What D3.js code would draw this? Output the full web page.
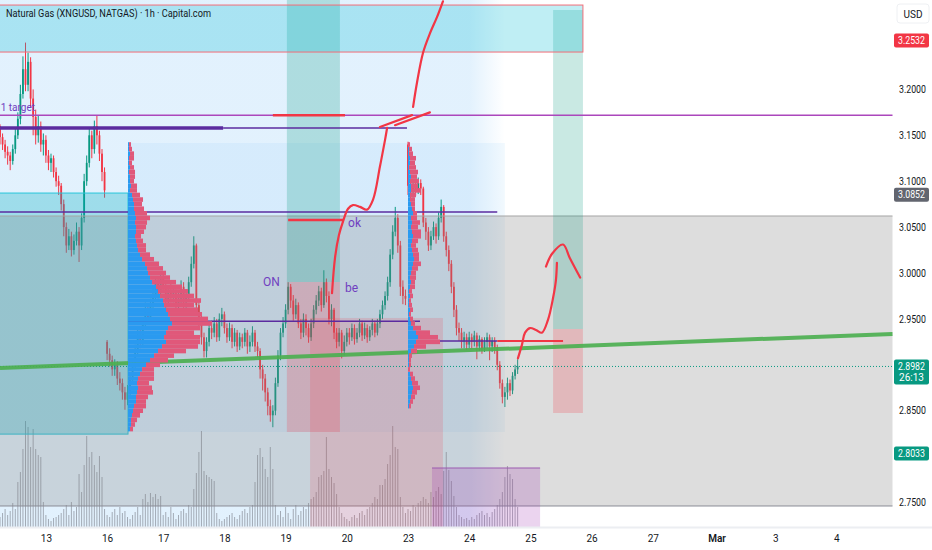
<!DOCTYPE html>
<html>
<head>
<meta charset="utf-8">
<script src="https://cdn.jsdelivr.net/npm/d3@7"></script>
<style>
body { margin: 0; background: #fff; }
svg text { font-family: Roboto, "Noto Sans", sans-serif; }
</style>
</head>
<body>
<svg id="chart"></svg>
<script>
// hourly bars, Feb 13 -> Feb 24
var closes = [
  3.148,3.140,3.132,3.128,3.122,3.135,3.150,3.168,3.195,3.222,
  3.205,3.230,3.190,3.170,3.150,3.160,3.140,3.145,3.128,3.120,
  3.125,3.110,3.100,3.095,3.075,3.050,3.030,3.040,3.025,3.035,
  3.045,3.030,3.060,3.100,3.120,3.150,3.135,3.160,3.150,3.130,
  3.110,3.090,2.912,2.905,2.895,2.900,2.885,2.880,2.870,2.862,
  2.870,2.885,2.900,2.915,2.930,2.925,2.945,2.960,2.950,2.965,
  2.975,2.990,2.980,2.995,2.985,2.970,2.980,2.975,2.978,2.965,
  2.972,2.985,2.968,2.975,2.990,3.010,3.030,2.965,2.950,2.930,
  2.915,2.925,2.940,2.935,2.945,2.930,2.950,2.955,2.940,2.930,
  2.940,2.925,2.935,2.920,2.930,2.925,2.935,2.920,2.925,2.935,
  2.920,2.915,2.895,2.885,2.870,2.855,2.845,2.850,2.880,2.910,
  2.935,2.945,2.960,2.985,2.970,2.955,2.965,2.945,2.935,2.950,
  2.940,2.930,2.945,2.960,2.970,2.980,2.965,2.990,2.975,2.950,
  2.960,2.935,2.925,2.935,2.915,2.925,2.935,2.930,2.940,2.928,
  2.935,2.945,2.932,2.940,2.930,2.938,2.945,2.935,2.945,2.955,
  2.965,2.975,2.990,3.020,3.045,3.060,3.030,2.985,2.975,2.972,
  3.095,3.088,3.095,3.090,3.098,3.092,3.055,3.045,3.030,3.040,
  3.050,3.040,3.060,3.072,3.040,3.025,3.010,2.985,2.960,2.940,
  2.935,2.925,2.930,2.922,2.930,2.925,2.932,2.920,2.928,2.918,
  2.925,2.930,2.920,2.926,2.918,2.900,2.880,2.865,2.870,2.880,
  2.872,2.888,2.895,2.8982
];
var highs = [
  3.162,3.152,3.145,3.138,3.132,3.140,3.158,3.175,3.205,3.236,
  3.251,3.240,3.235,3.200,3.178,3.172,3.165,3.152,3.150,3.134,
  3.130,3.128,3.115,3.106,3.098,3.080,3.055,3.048,3.045,3.042,
  3.055,3.050,3.065,3.108,3.128,3.158,3.155,3.166,3.172,3.155,
  3.135,3.115,2.927,2.918,2.910,2.906,2.904,2.892,2.885,2.876,
  2.878,2.890,2.905,2.922,2.938,2.940,2.952,2.968,2.965,2.972,
  2.984,2.996,2.995,3.002,3.000,2.990,2.986,2.988,2.986,2.982,
  2.980,2.992,2.990,2.982,2.996,3.018,3.040,3.032,2.970,2.955,
  2.935,2.930,2.946,2.948,2.952,2.950,2.956,2.962,2.958,2.945,
  2.946,2.944,2.940,2.938,2.935,2.934,2.940,2.938,2.932,2.942,
  2.938,2.925,2.918,2.900,2.890,2.875,2.862,2.856,2.886,2.916,
  2.940,2.952,2.966,2.990,2.988,2.976,2.972,2.968,2.950,2.956,
  2.955,2.945,2.950,2.965,2.976,2.986,2.984,3.003,2.994,2.980,
  2.966,2.962,2.940,2.940,2.938,2.932,2.940,2.940,2.945,2.944,
  2.940,2.950,2.948,2.946,2.944,2.942,2.950,2.948,2.950,2.960,
  2.970,2.980,2.996,3.026,3.052,3.072,3.064,3.035,2.992,2.982,
  3.143,3.100,3.102,3.100,3.104,3.102,3.094,3.060,3.050,3.046,
  3.056,3.054,3.066,3.080,3.074,3.045,3.030,3.014,2.990,2.965,
  2.946,2.940,2.936,2.934,2.936,2.934,2.937,2.935,2.932,2.930,
  2.930,2.935,2.933,2.930,2.930,2.922,2.904,2.884,2.876,2.886,
  2.884,2.892,2.900,2.906
];
var lows = [
  3.140,3.134,3.125,3.118,3.112,3.118,3.130,3.146,3.162,3.190,
  3.198,3.198,3.180,3.150,3.140,3.142,3.132,3.128,3.120,3.112,
  3.110,3.104,3.094,3.085,3.068,3.040,3.022,3.025,3.018,3.020,
  3.030,3.012,3.025,3.055,3.095,3.115,3.125,3.130,3.140,3.122,
  3.100,3.082,2.905,2.898,2.888,2.888,2.878,2.872,2.862,2.851,
  2.856,2.865,2.880,2.895,2.910,2.918,2.920,2.940,2.944,2.946,
  2.960,2.970,2.972,2.976,2.978,2.962,2.964,2.968,2.968,2.958,
  2.960,2.966,2.962,2.962,2.970,2.985,3.005,2.958,2.942,2.922,
  2.908,2.908,2.920,2.928,2.930,2.925,2.926,2.942,2.934,2.924,
  2.926,2.918,2.920,2.914,2.916,2.918,2.920,2.912,2.914,2.920,
  2.914,2.908,2.885,2.872,2.860,2.845,2.838,2.832,2.845,2.876,
  2.905,2.930,2.940,2.955,2.962,2.948,2.950,2.940,2.928,2.930,
  2.932,2.924,2.926,2.940,2.955,2.964,2.958,2.962,2.968,2.944,
  2.942,2.928,2.918,2.920,2.907,2.910,2.920,2.922,2.926,2.922,
  2.924,2.930,2.926,2.928,2.924,2.926,2.932,2.930,2.932,2.940,
  2.950,2.960,2.970,2.985,3.015,3.040,3.022,2.975,2.966,2.965,
  3.085,3.080,3.082,3.084,3.086,3.085,3.050,3.036,3.024,3.025,
  3.036,3.032,3.036,3.055,3.034,3.018,3.002,2.978,2.952,2.932,
  2.926,2.918,2.918,2.916,2.918,2.918,2.920,2.906,2.915,2.912,
  2.914,2.918,2.905,2.914,2.912,2.894,2.874,2.858,2.854,2.862,
  2.866,2.868,2.884,2.890
];
// session opens after the weekend gaps, other bars open at the previous close
var gapOpens = { 0: 3.160, 42: 2.925, 160: 3.140 };
var volumes = [
  10,14,18,12,16,24,18,45,55,78,
  106,100,80,98,78,72,70,25,12,8,
  6,9,10,12,14,18,22,12,25,16,
  20,53,35,62,91,70,75,62,55,71,
  50,18,12,10,15,18,12,20,14,16,
  10,8,12,15,20,12,28,33,25,34,
  30,33,28,31,12,15,10,20,14,8,
  12,16,18,14,22,20,38,54,75,96,
  56,52,50,48,46,14,8,6,8,10,
  12,14,10,8,12,16,18,14,20,22,
  45,72,79,70,58,50,80,58,22,12,
  16,10,20,14,8,18,22,12,16,20,
  18,24,28,30,35,50,52,56,90,58,
  50,44,33,20,14,10,8,6,10,12,
  9,14,16,12,18,20,24,30,28,42,
  42,48,63,72,101,80,78,30,20,14,
  18,16,22,20,24,26,30,28,24,35,
  30,36,40,33,56,75,57,46,31,20,
  12,10,8,9,7,10,8,12,14,16,
  12,14,10,15,18,22,28,35,50,61,
  53,48,28,20
];

// time axis (bar index of each day label)
var dayTicks = [18, 42, 64, 88, 112, 136, 160, 184, 208, 232, 256, 281, 304, 328];
var dayLabels = ["13", "16", "17", "18", "19", "20", "23", "24", "25", "26", "27", "Mar", "3", "4"];
var priceTicks = [3.2, 3.15, 3.1, 3.05, 3.0, 2.95, 2.85, 2.75];

// fixed range volume profiles, rows every 0.005 from the top price down
var p1Top = 3.140, p1Up = [
  1,1,2,1,1,2,1,2,2,3, 2,4,5,6,6,7,8,7,8,8, 7,8,9,10,12,14,17,19,20,22,
  24,28,30,32,35,36,38,40,42,44, 40,38,36,38,34,30,26,22,18,14,
  12,10,9,10,9,8,8,6,5,4, 3,3,2];
var p1Down = [
  2,3,4,5,3,4,6,5,4,6, 7,8,10,8,10,12,14,12,10,8, 6,7,9,8,10,12,14,16,18,20,
  24,26,30,34,38,30,32,34,38,40, 32,28,36,34,36,28,20,18,14,12,
  14,16,12,14,16,12,10,12,10,8, 6,4,3];
var p2Top = 3.140, p2Up = [
  0,1,1,2,2,1,2,3,2,3, 3,2,2,3,4,5,3,4,3,4, 5,4,3,4,5,6,5,4,3,2,
  3,2,1,2,1,1,2,1,2,3, 5,8,10,8,6,3,1,1,1,0, 2,3,4,5,4,3,2,1];
var p2Down = [
  2,3,4,6,5,7,8,6,9,7, 10,6,5,4,3,4,6,8,7,9, 8,6,5,6,6,5,8,6,5,6,
  4,5,3,3,2,3,3,2,3,4, 8,14,20,24,12,6,3,2,2,2, 3,4,6,7,5,4,3,2];

// hand drawn brush strokes, [bar index, price]
var brushUp = [[130.2,2.978],[131.4,3.017],[132.9,3.041],[134.5,3.056],[136.5,3.070],[138.4,3.074],
  [141.2,3.072],[143.9,3.069],[146.3,3.080],[149.0,3.116],[151.0,3.145],[151.8,3.158]];
var brushArrowA = [[149.0,3.159],[161.6,3.172]];
var brushArrowB = [[154.9,3.161],[168.6,3.175]];
var brushTop = [[162.0,3.181],[163.5,3.207],[165.9,3.240],[168.6,3.261],[171.4,3.279],[173.7,3.296]];
var brushRight = [[203.1,2.907],[204.7,2.922],[205.9,2.935],[207.8,2.940],[210.2,2.938],[212.5,2.935],
  [214.9,2.949],[216.9,2.973],[218.0,2.992],[218.4,3.011]];
var brushCaret = [[214.1,3.007],[216.5,3.021],[220.8,3.031],[223.5,3.016],[227.5,2.995]];

var W = 932, H = 550, plotR = 893, plotB = 527;

var x = d3.scaleLinear().domain([0, 350]).range([0, 892.5]);
var y = d3.scaleLinear().domain([2.75, 3.2]).range([502.5, 89.4]);
var vy = d3.scaleLinear().domain([0, 110]).range([plotB, plotB - 110]);
var rowH = y(2.75) - y(2.755);

var svg = d3.select("#chart").attr("width", W).attr("height", H);
svg.append("rect").attr("width", W).attr("height", H).attr("fill", "#fff");

var defs = svg.append("defs");
defs.append("clipPath").attr("id", "plot").append("rect").attr("width", plotR).attr("height", plotB);
var fade = defs.append("linearGradient").attr("id", "fade").attr("gradientUnits", "userSpaceOnUse")
    .attr("x1", x(0)).attr("x2", x(198)).attr("y1", 0).attr("y2", 0);
fade.append("stop").attr("offset", 0.93).attr("stop-color", "#2196f3").attr("stop-opacity", 0.13);
fade.append("stop").attr("offset", 1).attr("stop-color", "#2196f3").attr("stop-opacity", 0);

var g = svg.append("g").attr("clip-path", "url(#plot)");

function zone(i0, i1, p0, p1, fill, stroke) {
    g.append("rect")
        .attr("x", x(i0)).attr("width", x(i1) - x(i0))
        .attr("y", y(p0)).attr("height", y(p1) - y(p0))
        .attr("fill", fill)
        .attr("stroke", stroke || "none");
}
function hline(i0, i1, p, color, w) {
    g.append("line")
        .attr("x1", x(i0)).attr("x2", x(i1))
        .attr("y1", y(p)).attr("y2", y(p))
        .attr("stroke", color).attr("stroke-width", w);
}

// background of the range boxes
zone(-1, 198, 3.31, 2.70, "url(#fade)");
zone(50.2, 198, 3.1416, 2.8268, "rgba(33,150,243,0.06)");

// volume
var bars = closes.map(function (c, i) {
    var o = gapOpens[i] !== undefined ? gapOpens[i] : closes[i - 1];
    return {i: i, o: o, h: highs[i], l: lows[i], c: c, v: volumes[i]};
});
g.selectAll(".vol").data(bars).enter().append("line")
    .attr("class", "vol")
    .attr("x1", function (d) { return x(d.i); })
    .attr("x2", function (d) { return x(d.i); })
    .attr("y1", vy(0))
    .attr("y2", function (d) { return vy(d.v); })
    .attr("stroke", "rgba(120,123,134,0.6)").attr("stroke-width", 1);

// candles
var up = "#089981", down = "#f23645";
var cg = g.selectAll(".candle").data(bars).enter().append("g").attr("class", "candle");
cg.append("line")
    .attr("x1", function (d) { return x(d.i); })
    .attr("x2", function (d) { return x(d.i); })
    .attr("y1", function (d) { return y(d.h); })
    .attr("y2", function (d) { return y(d.l); })
    .attr("stroke", function (d) { return d.c >= d.o ? up : down; })
    .attr("stroke-width", 1);
cg.append("rect")
    .attr("x", function (d) { return x(d.i) - 0.9; })
    .attr("width", 1.8)
    .attr("y", function (d) { return y(Math.max(d.o, d.c)); })
    .attr("height", function (d) { return Math.max(0.8, Math.abs(y(d.o) - y(d.c))); })
    .attr("fill", function (d) { return d.c >= d.o ? up : down; });

// drawings
zone(-1, 50.2, 3.0871, 2.8245, "rgba(0,172,193,0.3)", "#26c6da");
zone(-1, 350, 3.0621, 2.7462, "rgba(128,128,128,0.27)");
hline(-1, 350, 3.0621, "#a5a5a5", 1);
hline(-1, 350, 2.7462, "#8a8d96", 1);
zone(112.5, 133.3, 3.31, 2.9902, "rgba(8,153,129,0.24)");
zone(112.5, 133.3, 2.9902, 2.8268, "rgba(242,54,69,0.22)");
zone(121.6, 173.7, 2.951, 2.70, "rgba(242,54,69,0.17)");
zone(216.9, 228.6, 3.2865, 2.939, "rgba(8,153,129,0.22)");
zone(216.9, 228.6, 2.939, 2.8475, "rgba(242,54,69,0.22)");
zone(169.4, 211.8, 2.7876, 2.70, "rgba(156,39,176,0.2)");
hline(169.4, 211.8, 2.7876, "#9c5bb0", 1.2);
zone(-1, 228.6, 3.2919, 3.2407, "rgba(0,188,212,0.25)", "#f26d78");

// levels
var deep = "#5b2b9f";
hline(-1, 350, 3.1718, "#ab47bc", 1.6);
hline(-1, 87.5, 3.158, deep, 3.5);
hline(87.5, 159.6, 3.158, deep, 1.5);
hline(-1, 195, 3.0664, deep, 1.5);
hline(50.2, 164.7, 2.9475, deep, 1.5);
hline(160, 195, 2.926, deep, 1.5);
hline(195, 220.8, 2.926, "#f23645", 2);
hline(113, 134.5, 3.0577, "#f23645", 2.5);
hline(107, 135.3, 3.1718, "#f23645", 2.5);

// last price line
g.append("line")
    .attr("x1", 0).attr("x2", plotR)
    .attr("y1", y(2.8982)).attr("y2", y(2.8982))
    .attr("stroke", "#089981").attr("stroke-width", 1)
    .attr("stroke-dasharray", "1,2");

// trend line
g.append("line")
    .attr("x1", x(0)).attr("y1", y(2.8965))
    .attr("x2", x(350)).attr("y2", y(2.9336))
    .attr("stroke", "#4caf50").attr("stroke-width", 4).attr("stroke-opacity", 0.92);

// volume profiles
function profile(i0, top, ups, downs) {
    var rows = ups.map(function (u, k) { return {p: top - k * 0.005, u: u, d: downs[k]}; });
    var pg = g.append("g");
    pg.selectAll(".u").data(rows).enter().append("rect")
        .attr("x", x(i0))
        .attr("y", function (d) { return y(d.p) - rowH / 2; })
        .attr("width", function (d) { return d.u; })
        .attr("height", rowH)
        .attr("fill", "#2a9af0");
    pg.selectAll(".d").data(rows).enter().append("rect")
        .attr("x", function (d) { return x(i0) + d.u; })
        .attr("y", function (d) { return y(d.p) - rowH / 2; })
        .attr("width", function (d) { return d.d; })
        .attr("height", rowH)
        .attr("fill", "#e0587a");
}
profile(50.2, p1Top, p1Up, p1Down);
profile(160, p2Top, p2Up, p2Down);

// labels on the chart
var purple = "#7040c0";
function note(i, p, s, size) {
    g.append("text").attr("x", x(i)).attr("y", y(p))
        .attr("fill", purple).attr("font-size", size).text(s);
}
note(103.1, 2.9858, "ON", 12);
note(136.5, 3.0501, "ok", 12);
note(135.3, 2.9793, "be", 12);
note(0.3, 3.1765, "1 target", 10);

// brush strokes
var brush = d3.line()
    .x(function (d) { return x(d[0]); })
    .y(function (d) { return y(d[1]); })
    .curve(d3.curveCatmullRom.alpha(0.5));
[brushUp, brushArrowA, brushArrowB, brushTop, brushRight, brushCaret].forEach(function (pts) {
    g.append("path").datum(pts)
        .attr("d", brush)
        .attr("fill", "none")
        .attr("stroke", "#f23645")
        .attr("stroke-width", 2.2)
        .attr("stroke-linecap", "round");
});

// title
svg.append("text").attr("x", 6).attr("y", 17)
    .attr("font-size", 11).attr("fill", "#131722")
    .attr("textLength", 205).attr("lengthAdjust", "spacingAndGlyphs")
    .text("Natural Gas (XNGUSD, NATGAS) \u00b7 1h \u00b7 Capital.com");

// price axis
svg.append("rect").attr("x", plotR).attr("y", 0).attr("width", W - plotR).attr("height", plotB).attr("fill", "#fff");
var yAxis = svg.append("g")
    .attr("transform", "translate(" + (plotR + 6) + ",0)")
    .call(d3.axisRight(y).tickValues(priceTicks).tickSize(0).tickPadding(0).tickFormat(d3.format(".4f")));
yAxis.select(".domain").remove();
yAxis.selectAll("text")
    .attr("font-size", 10).attr("fill", "#131722")
    .attr("textLength", 27).attr("lengthAdjust", "spacingAndGlyphs");

function badge(p, label, color, extra) {
    var h = extra ? 25 : 14;
    var top = y(p) - 7;
    svg.append("rect").attr("x", 894).attr("y", top).attr("width", 35).attr("height", h)
        .attr("rx", 2).attr("fill", color);
    svg.append("text").attr("x", 911.5).attr("y", top + 10.5)
        .attr("text-anchor", "middle").attr("font-size", 10).attr("fill", "#fff")
        .attr("textLength", 27).attr("lengthAdjust", "spacingAndGlyphs").text(label);
    if (extra) {
        svg.append("text").attr("x", 911.5).attr("y", top + 21.5)
            .attr("text-anchor", "middle").attr("font-size", 10).attr("fill", "#fff").text(extra);
    }
}
badge(3.2532, "3.2532", "#f23645");
badge(3.0852, "3.0852", "#62656f");
badge(2.8982, "2.8982", "#089981", "26:13");
badge(2.8033, "2.8033", "#089981");

svg.append("rect").attr("x", 897).attr("y", 4).attr("width", 32).attr("height", 19)
    .attr("rx", 3).attr("fill", "#fff").attr("stroke", "#eef0f3");
svg.append("text").attr("x", 913).attr("y", 17.5).attr("text-anchor", "middle")
    .attr("font-size", 10).attr("fill", "#131722").text("USD");

// time axis
svg.append("rect").attr("x", 0).attr("y", plotB).attr("width", W).attr("height", H - plotB).attr("fill", "#fff");
svg.append("line").attr("x1", 0).attr("x2", W).attr("y1", plotB + 0.5).attr("y2", plotB + 0.5)
    .attr("stroke", "#eceef2").attr("stroke-width", 2);
var xAxis = svg.append("g")
    .attr("transform", "translate(0," + plotB + ")")
    .call(d3.axisBottom(x).tickValues(dayTicks).tickSize(0).tickPadding(8)
        .tickFormat(function (d, k) { return dayLabels[k]; }));
xAxis.select(".domain").remove();
xAxis.selectAll("text")
    .attr("font-size", 10).attr("fill", "#131722")
    .attr("font-weight", function (d, k) { return dayLabels[k] === "Mar" ? 600 : 400; });
</script>
</body>
</html>
